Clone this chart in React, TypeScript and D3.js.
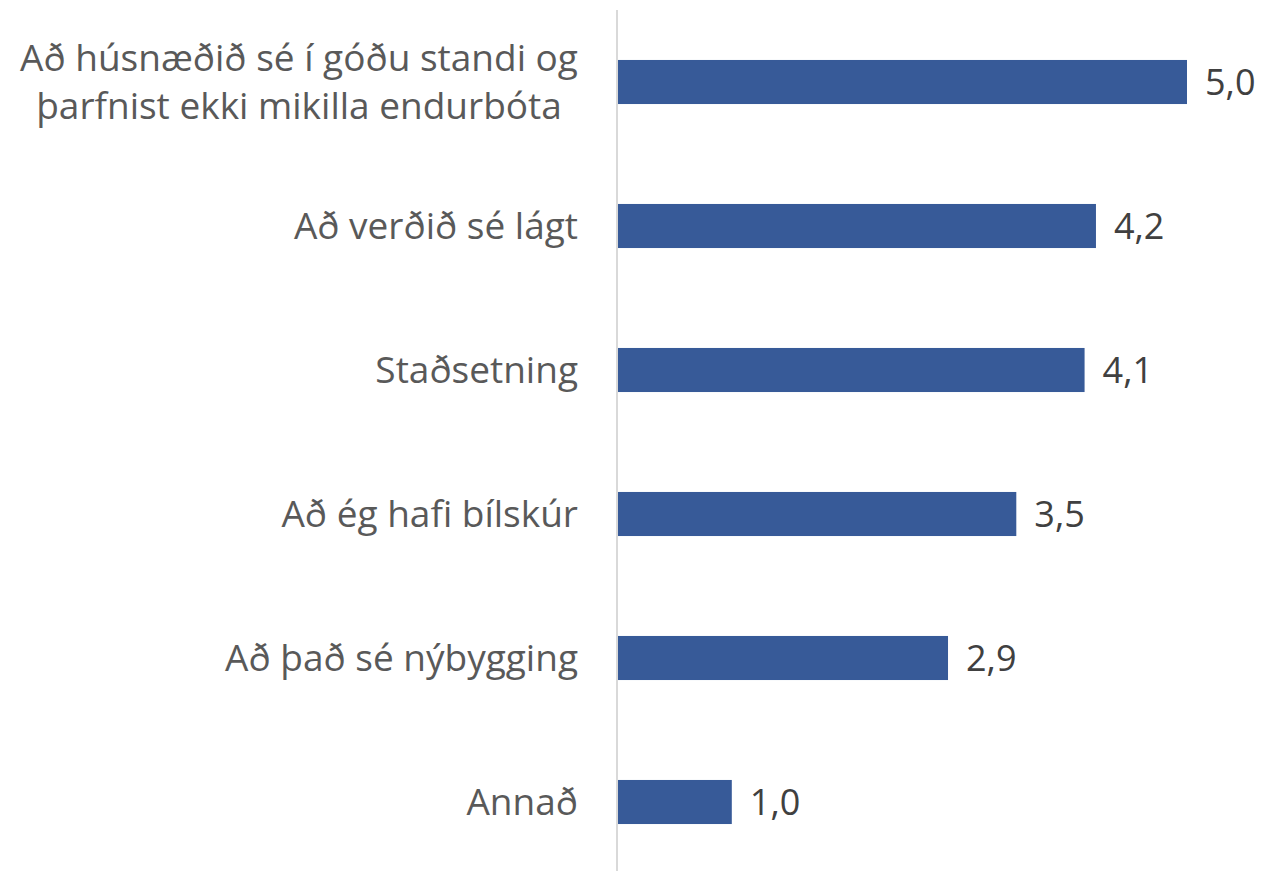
import * as d3 from "d3";
import { useEffect } from "react";

const categories = [
  ["Að húsnæðið sé í góðu standi og", "þarfnist ekki mikilla endurbóta"],
  ["Að verðið sé lágt"],
  ["Staðsetning"],
  ["Að ég hafi bílskúr"],
  ["Að það sé nýbygging"],
  ["Annað"],
];
const values = [5.0, 4.2, 4.1, 3.5, 2.9, 1.0];
const keys = categories.map((c) => c.join(" "));

const width = 1271;
const height = 871;

export default function App() {
  useEffect(() => {
    document.body.style.margin = "0";
  }, []);

  const x = d3.scaleLinear().domain([0, 5]).range([618, 1187]);
  const y = d3
    .scaleBand()
    .domain(keys)
    .range([10, 874])
    .paddingInner(0.694)
    .paddingOuter(0.347);

  const fmt = (v: number) => d3.format(".1f")(v).replace(".", ",");
  const font = "'Open Sans', 'Noto Sans', sans-serif";
  const labelRight = 578;
  const blockWidth = 558; // widest wrapped line, lines are centred inside it

  return (
    <svg width={width} height={height} style={{ display: "block" }}>
      <rect width={width} height={height} fill="#fff" />
      {values.map((v, i) => (
        <rect
          key={keys[i]}
          x={x(0)}
          y={y(keys[i])}
          width={x(v) - x(0)}
          height={y.bandwidth()}
          fill="#375a98"
        />
      ))}
      <line x1={617} x2={617} y1={10} y2={height} stroke="#d9d9d9" strokeWidth={2} />
      {categories.map((lines, i) => {
        const cy = (y(keys[i]) ?? 0) + y.bandwidth() / 2;
        const lh = 48;
        const top = cy - ((lines.length - 1) * lh) / 2;
        const multi = lines.length > 1;
        const lx = multi ? labelRight - blockWidth / 2 : labelRight;
        return (
          <text
            key={keys[i]}
            textAnchor={multi ? "middle" : "end"}
            fontFamily={font}
            fontSize={37}
            fill="#595959"
          >
            {lines.map((l, j) => (
              <tspan key={j} x={lx} y={top + j * lh} dy="0.35em">
                {l}
              </tspan>
            ))}
          </text>
        );
      })}
      {values.map((v, i) => (
        <text
          key={"v" + i}
          x={x(v) + 18}
          y={(y(keys[i]) ?? 0) + y.bandwidth() / 2}
          dy="0.36em"
          fontFamily={font}
          fontSize={36}
          fill="#404040"
        >
          {fmt(v)}
        </text>
      ))}
    </svg>
  );
}
